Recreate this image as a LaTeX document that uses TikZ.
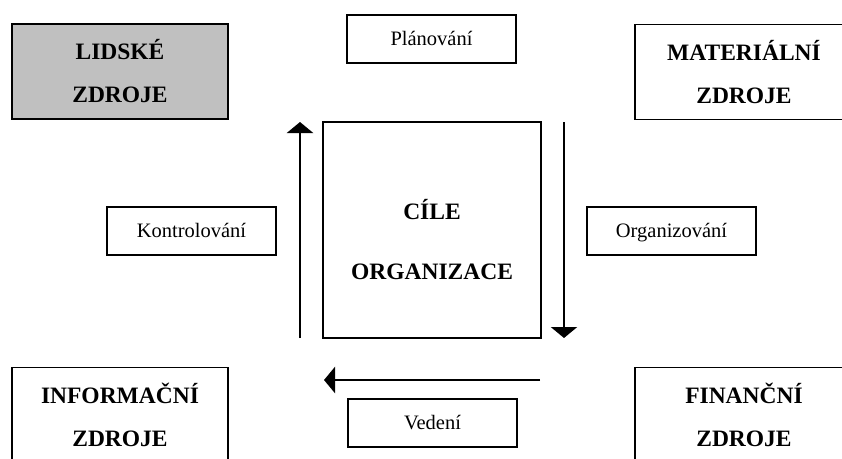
\documentclass[tikz,border=0pt]{standalone}
\usepackage{fontspec}
\setmainfont{Liberation Serif}
\usetikzlibrary{arrows.meta}
\definecolor{humanGray}{HTML}{C0C0C0}

\begin{document}
\begin{tikzpicture}[x=1pt, y=-1pt,
    resource/.style={rectangle, draw=black, line width=1.2pt, minimum width=216pt, minimum height=95pt, align=center, font=\fontsize{23.5}{43}\selectfont\bfseries},
    activity/.style={rectangle, draw=black, line width=1.2pt, minimum width=169pt, minimum height=48pt, text height=15pt, text depth=3pt, font=\fontsize{20.5}{24}\selectfont},
    arrow/.style={-{Triangle[width=26pt,length=11pt]}, line width=2.6pt}
]
\useasboundingbox (0,0) rectangle (842,458);

% Resources
\node[resource, fill=humanGray] (lidske) at (120,71.5) {LIDSKÉ\\ZDROJE};
\node[resource, minimum width=218pt] (materialni) at (744,72) {MATERIÁLNÍ\\ZDROJE};
\node[resource] (informacni) at (120,415) {INFORMAČNÍ\\ZDROJE};
\node[resource, minimum width=218pt] (financni) at (744,415) {FINANČNÍ\\ZDROJE};

% Goals
\node[rectangle, draw=black, line width=1.2pt, minimum width=218pt, minimum height=216pt] (cile) at (432,230) {};
\node[align=center, font=\fontsize{23.5}{60}\selectfont\bfseries] (ciletext) at (432,240) {CÍLE\\ORGANIZACE};

% Management functions
\node[activity] (planovani) at (431.5,39) {Plánování};
\node[activity] (organizovani) at (671.5,231) {Organizování};
\node[activity] (vedeni) at (432.5,423) {Vedení};
\node[activity] (kontrolovani) at (191.5,231) {Kontrolování};

% Cycle
\coordinate (rightTop) at (564,122);
\coordinate (rightBottom) at (564,338);
\coordinate (bottomRight) at (540,380);
\coordinate (bottomLeft) at (324,380);
\coordinate (leftBottom) at (300,338);
\coordinate (leftTop) at (300,122);
\draw[arrow] (rightTop) -- (rightBottom);
\draw[arrow] (bottomRight) -- (bottomLeft);
\draw[arrow] (leftBottom) -- (leftTop);

\end{tikzpicture}
\end{document}
